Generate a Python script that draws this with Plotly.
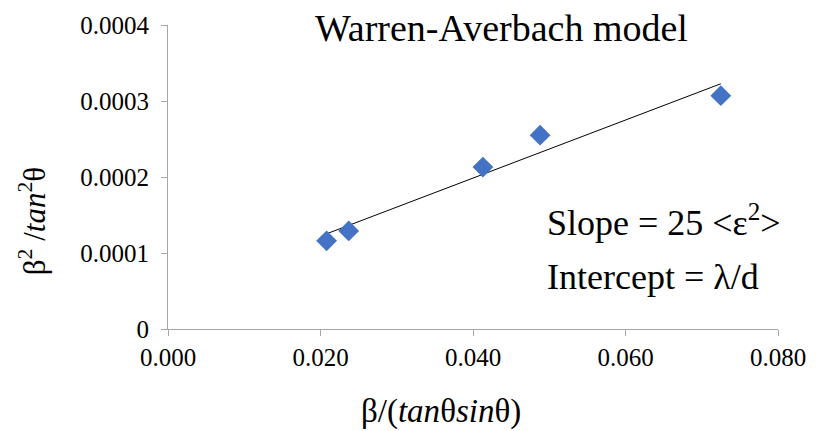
import numpy as np
import plotly.graph_objects as go

# Warren-Averbach data: beta/(tan(theta) sin(theta)) vs beta^2/tan^2(theta)
x_vals = [0.0208, 0.0237, 0.0413, 0.0488, 0.0725]
y_vals = [0.000116, 0.000129, 0.000213, 0.000255, 0.000307]

x_ticks = [0.0, 0.02, 0.04, 0.06, 0.08]
y_ticks = [0.0, 0.0001, 0.0002, 0.0003, 0.0004]

# Linear trend line over the data range
slope, intercept = np.polyfit(x_vals, y_vals, 1)
fit_x = [min(x_vals), max(x_vals)]
fit_y = [slope * v + intercept for v in fit_x]

serif = "Liberation Serif"
axis_grey = "#a6a6a6"

# plot-area geometry in pixels
W, H = 818, 431
L, R, T, B = 168, 29, 23, 102
pw, ph = W - L - R, H - T - B


def px(x):
    return (x - L) / pw


def py(y):
    return (H - B - y) / ph


def sfont(size):
    return dict(family=serif, size=size, color="black")


fig = go.Figure()
fig.add_trace(go.Scatter(
    x=fit_x, y=fit_y, mode="lines",
    line=dict(color="black", width=1), showlegend=False, hoverinfo="skip",
))
fig.add_trace(go.Scatter(
    x=x_vals, y=y_vals, mode="markers",
    marker=dict(symbol="diamond", size=16, color="#4472C4"),
    showlegend=False,
))

fig.update_layout(
    width=W, height=H,
    margin=dict(l=L, r=R, t=T, b=B),
    paper_bgcolor="white", plot_bgcolor="white",
    font=sfont(24),
    xaxis=dict(
        range=[0, 0.08], tickvals=x_ticks, tickformat=".3f",
        showgrid=False, zeroline=False,
        showline=True, linecolor=axis_grey, linewidth=1,
        ticks="outside", ticklen=6, tickcolor=axis_grey,
        tickfont=sfont(25),
    ),
    yaxis=dict(
        range=[0, 0.0004], tickvals=y_ticks, tickformat=".4~f",
        showgrid=False, zeroline=False,
        showline=True, linecolor=axis_grey, linewidth=1,
        ticks="outside", ticklen=6, tickcolor=axis_grey,
        tickfont=sfont(25), ticklabelstandoff=7,
    ),
    annotations=[
        dict(
            text="Warren-Averbach model", x=px(508), y=py(26),
            xref="paper", yref="paper", xanchor="center", yanchor="middle",
            showarrow=False, font=sfont(38),
        ),
        dict(
            text="Slope = 25 <ε<sup>2</sup>>", x=px(552), y=py(220),
            xref="paper", yref="paper", xanchor="left", yanchor="middle",
            showarrow=False, font=sfont(36),
        ),
        dict(
            text="Intercept = λ/d", x=px(552), y=py(277),
            xref="paper", yref="paper", xanchor="left", yanchor="middle",
            showarrow=False, font=sfont(36),
        ),
        dict(
            text="β/(<i>tan</i>θ<i>sin</i>θ)", x=px(446), y=py(412),
            xref="paper", yref="paper", xanchor="center", yanchor="middle",
            showarrow=False, font=sfont(33),
        ),
        dict(
            text="β<sup>2</sup> /<i>tan</i><sup>2</sup>θ", x=px(30), y=py(220),
            xref="paper", yref="paper", xanchor="center", yanchor="middle",
            textangle=-90, showarrow=False, font=sfont(31),
        ),
    ],
)

fig.write_html("out.html")
